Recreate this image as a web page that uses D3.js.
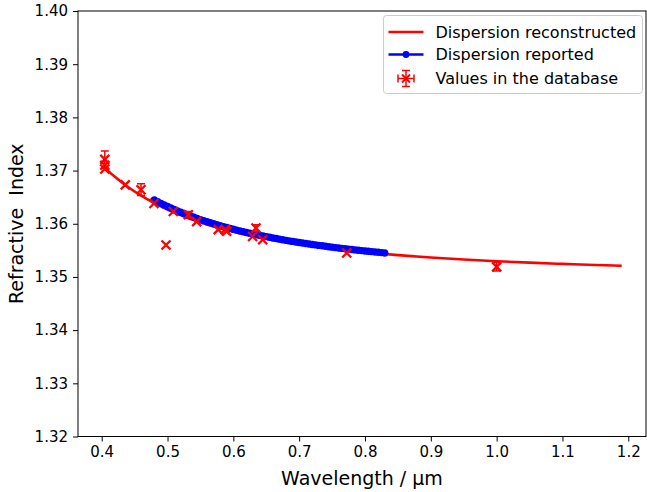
<!DOCTYPE html>
<html>
<head>
<meta charset="utf-8">
<script src="https://cdn.jsdelivr.net/npm/d3@7"></script>
<style>
  html, body { margin: 0; padding: 0; background: #fff; }
  svg { display: block; font-family: "DejaVu Sans", sans-serif; }
</style>
</head>
<body>
<svg id="chart" width="647" height="492"></svg>
<script>
// Reconstructed dispersion curve (wavelength in µm, refractive index)
const reconWl = [0.404, 0.42, 0.44, 0.46, 0.48, 0.50, 0.53, 0.56, 0.60, 0.65, 0.70, 0.75, 0.80, 0.85, 0.90, 0.95, 1.00, 1.05, 1.10, 1.15, 1.19];
const reconN  = [1.37060, 1.36882, 1.36690, 1.36527, 1.36387, 1.36266, 1.36113, 1.35987, 1.35850, 1.35717, 1.35613, 1.35531, 1.35465, 1.35410, 1.35366, 1.35328, 1.35296, 1.35269, 1.35245, 1.35225, 1.35210];

// Reported dispersion samples (every 5 nm)
const reportWl = [0.480, 0.485, 0.490, 0.495, 0.500, 0.505, 0.510, 0.515, 0.520, 0.525,
                  0.530, 0.535, 0.540, 0.545, 0.550, 0.555, 0.560, 0.565, 0.570, 0.575,
                  0.580, 0.585, 0.590, 0.595, 0.600, 0.605, 0.610, 0.615, 0.620, 0.625,
                  0.630, 0.635, 0.640, 0.645, 0.650, 0.655, 0.660, 0.665, 0.670, 0.675,
                  0.680, 0.685, 0.690, 0.695, 0.700, 0.705, 0.710, 0.715, 0.720, 0.725,
                  0.730, 0.735, 0.740, 0.745, 0.750, 0.755, 0.760, 0.765, 0.770, 0.775,
                  0.780, 0.785, 0.790, 0.795, 0.800, 0.805, 0.810, 0.815, 0.820, 0.825, 0.830];
const reportN  = [1.36447, 1.36416, 1.36384, 1.36354, 1.36324, 1.36297, 1.36269, 1.36243, 1.36216, 1.36192,
                  1.36167, 1.36145, 1.36122, 1.36100, 1.36078, 1.36058, 1.36038, 1.36019, 1.35999, 1.35981,
                  1.35963, 1.35946, 1.35929, 1.35913, 1.35896, 1.35881, 1.35866, 1.35851, 1.35836, 1.35823,
                  1.35809, 1.35796, 1.35782, 1.35770, 1.35757, 1.35745, 1.35733, 1.35722, 1.35710, 1.35699,
                  1.35688, 1.35678, 1.35668, 1.35658, 1.35648, 1.35639, 1.35629, 1.35620, 1.35610, 1.35602,
                  1.35593, 1.35585, 1.35576, 1.35568, 1.35560, 1.35552, 1.35544, 1.35537, 1.35530, 1.35523,
                  1.35515, 1.35508, 1.35501, 1.35495, 1.35488, 1.35482, 1.35475, 1.35469, 1.35463, 1.35457, 1.35451];

// Individual database values with their uncertainties
const dbWl  = [0.4047, 0.4047, 0.4047, 0.4358, 0.4597, 0.4794, 0.4977, 0.5088, 0.5316, 0.5443, 0.5770, 0.5876, 0.5899, 0.6293, 0.6344, 0.6446, 0.7722, 1.0];
const dbN   = [1.3721, 1.3710, 1.3703, 1.3673, 1.3664, 1.3638, 1.3560, 1.3623, 1.3617, 1.3604, 1.3589, 1.3589, 1.3586, 1.3576, 1.3592, 1.3570, 1.3545, 1.3519];
const dbErr = [0.0016, 0, 0, 0, 0.0011, 0, 0, 0, 0.0006, 0, 0, 0, 0, 0, 0.0006, 0, 0, 0.0008];

const xTicks = [0.4, 0.5, 0.6, 0.7, 0.8, 0.9, 1.0, 1.1, 1.2];
const yTicks = [1.32, 1.33, 1.34, 1.35, 1.36, 1.37, 1.38, 1.39, 1.40];

const legendLabels = ["Dispersion reconstructed", "Dispersion reported", "Values in the database"];

const svg = d3.select("#chart");
const pLeft = 78, pRight = 646, pTop = 11, pBottom = 436.5;

const x = d3.scaleLinear().domain([0.364, 1.2269]).range([pLeft, pRight]);
const y = d3.scaleLinear().domain([1.32, 1.40]).range([pBottom, pTop]);

// Axes
const xAxis = d3.axisBottom(x).tickValues(xTicks).tickFormat(d3.format(".1f")).tickSize(5).tickPadding(5);
const yAxis = d3.axisLeft(y).tickValues(yTicks).tickFormat(d3.format(".2f")).tickSize(5).tickPadding(5);

const gx = svg.append("g").attr("transform", `translate(0,${pBottom})`).call(xAxis);
const gy = svg.append("g").attr("transform", `translate(${pLeft},0)`).call(yAxis);
[gx, gy].forEach(g => {
  g.select(".domain").remove();
  g.selectAll("text").attr("font-size", 15).attr("fill", "#000").attr("font-family", "DejaVu Sans, sans-serif");
  g.selectAll("line").attr("stroke", "#000").attr("stroke-width", 1);
});

// Clip marks to the plotting area
const clipId = "plotclip";
svg.append("clipPath").attr("id", clipId).append("rect")
  .attr("x", pLeft).attr("y", pTop).attr("width", pRight - pLeft).attr("height", pBottom - pTop);

const plot = svg.append("g").attr("clip-path", `url(#${clipId})`);

// Reconstructed curve
const recon = reconWl.map((w, i) => [w, reconN[i]]);
plot.append("path")
  .datum(recon)
  .attr("fill", "none")
  .attr("stroke", "#ff0000")
  .attr("stroke-width", 2.6)
  .attr("d", d3.line().x(d => x(d[0])).y(d => y(d[1])).curve(d3.curveCatmullRom));

// Reported dispersion: line plus dots
const report = reportWl.map((w, i) => [w, reportN[i]]);
plot.append("path")
  .datum(report)
  .attr("fill", "none")
  .attr("stroke", "#0000ff")
  .attr("stroke-width", 2.5)
  .attr("d", d3.line().x(d => x(d[0])).y(d => y(d[1])).curve(d3.curveCatmullRom));
plot.selectAll("circle.rep").data(report).enter().append("circle")
  .attr("class", "rep")
  .attr("cx", d => x(d[0])).attr("cy", d => y(d[1])).attr("r", 3.7)
  .attr("fill", "#0000ff");

// Database values: error bars with caps and x markers
const db = dbWl.map((w, i) => ({ w, n: dbN[i], e: dbErr[i] }));
const dbG = plot.append("g").attr("stroke", "#ff0000").attr("fill", "none");
db.forEach(d => {
  const cx = x(d.w), cy = y(d.n);
  if (d.e > 0) {
    const y1 = y(d.n + d.e), y2 = y(d.n - d.e);
    dbG.append("line").attr("x1", cx).attr("x2", cx).attr("y1", y1).attr("y2", y2).attr("stroke-width", 1.5);
    dbG.append("line").attr("x1", cx - 4).attr("x2", cx + 4).attr("y1", y1).attr("y2", y1).attr("stroke-width", 1.5);
    dbG.append("line").attr("x1", cx - 4).attr("x2", cx + 4).attr("y1", y2).attr("y2", y2).attr("stroke-width", 1.5);
  }
  const s = 4.5;
  dbG.append("path")
    .attr("d", `M${cx - s},${cy - s}L${cx + s},${cy + s}M${cx - s},${cy + s}L${cx + s},${cy - s}`)
    .attr("stroke-width", 2.3);
});

// Frame on top
svg.append("rect")
  .attr("x", pLeft).attr("y", pTop).attr("width", pRight - pLeft).attr("height", pBottom - pTop)
  .attr("fill", "none").attr("stroke", "#000").attr("stroke-width", 1);

// Axis titles
svg.append("text")
  .attr("x", (pLeft + pRight) / 2).attr("y", 485)
  .attr("text-anchor", "middle").attr("font-size", 19).attr("fill", "#000")
  .text("Wavelength / µm");
svg.append("text")
  .attr("transform", `translate(23,${(pTop + pBottom) / 2}) rotate(-90)`)
  .attr("text-anchor", "middle").attr("font-size", 19).attr("fill", "#000")
  .style("white-space", "pre")
  .text("Refractive  Index");

// Legend
const lg = svg.append("g").attr("transform", "translate(383.5,15.5)");
lg.append("rect").attr("width", 259).attr("height", 78).attr("rx", 3).attr("ry", 3)
  .attr("fill", "#fff").attr("fill-opacity", 0.8).attr("stroke", "#cccccc").attr("stroke-width", 1);
const rowsY = [16.5, 39, 63];
const hx0 = 5, hx1 = 40, hxm = (hx0 + hx1) / 2;
// row 1: red line
lg.append("line").attr("x1", hx0).attr("x2", hx1).attr("y1", rowsY[0]).attr("y2", rowsY[0])
  .attr("stroke", "#ff0000").attr("stroke-width", 2.5);
// row 2: blue line with dot
lg.append("line").attr("x1", hx0).attr("x2", hx1).attr("y1", rowsY[1]).attr("y2", rowsY[1])
  .attr("stroke", "#0000ff").attr("stroke-width", 2.5);
lg.append("circle").attr("cx", hxm).attr("cy", rowsY[1]).attr("r", 3.4).attr("fill", "#0000ff");
// row 3: marker with error bars
const lm = lg.append("g").attr("stroke", "#ff0000").attr("fill", "none");
const ry = rowsY[2];
lm.append("line").attr("x1", hxm).attr("x2", hxm).attr("y1", ry - 8).attr("y2", ry + 8).attr("stroke-width", 1.5);
lm.append("line").attr("x1", hxm - 4).attr("x2", hxm + 4).attr("y1", ry - 8).attr("y2", ry - 8).attr("stroke-width", 1.5);
lm.append("line").attr("x1", hxm - 4).attr("x2", hxm + 4).attr("y1", ry + 8).attr("y2", ry + 8).attr("stroke-width", 1.5);
lm.append("line").attr("x1", hxm - 8).attr("x2", hxm + 8).attr("y1", ry).attr("y2", ry).attr("stroke-width", 1.5);
lm.append("line").attr("x1", hxm - 8).attr("x2", hxm - 8).attr("y1", ry - 4).attr("y2", ry + 4).attr("stroke-width", 1.5);
lm.append("line").attr("x1", hxm + 8).attr("x2", hxm + 8).attr("y1", ry - 4).attr("y2", ry + 4).attr("stroke-width", 1.5);
lm.append("path").attr("d", `M${hxm - 4},${ry - 4}L${hxm + 4},${ry + 4}M${hxm - 4},${ry + 4}L${hxm + 4},${ry - 4}`)
  .attr("stroke-width", 2);
legendLabels.forEach((t, i) => {
  lg.append("text").attr("x", 52).attr("y", rowsY[i]).attr("dy", "0.36em")
    .attr("font-size", 16).attr("fill", "#000").text(t);
});
</script>
</body>
</html>
